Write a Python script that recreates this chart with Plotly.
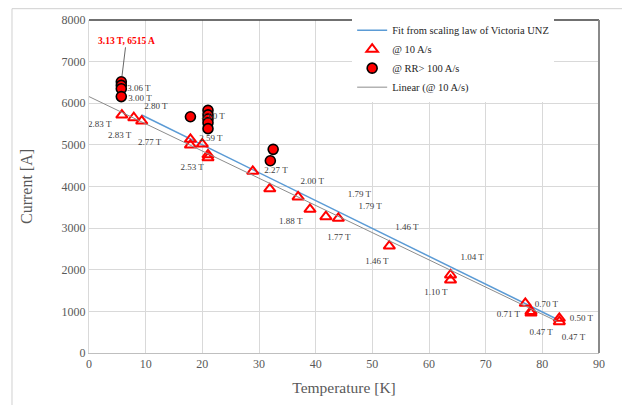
import plotly.graph_objects as go

# ---- data ----
fit_x = [9.3, 20, 30, 40, 50, 60, 70, 80, 82.6]
fit_y = [5717, 5002, 4334, 3665, 2996, 2322, 1653, 985, 810]

lin_x = [0, 82.6]
lin_y = [6160, 760]

tri_x = [5.8, 7.9, 9.3, 17.9, 17.9, 20.0, 21.0, 21.0, 28.9, 31.9, 36.9, 39.0,
         41.8, 44.0, 53.0, 63.8, 63.8, 77.0, 78.0, 78.0, 83.0, 83.0]
tri_y = [5717, 5652, 5573, 5133, 4996, 5020, 4760, 4690, 4365, 3945, 3750, 3452,
         3275, 3235, 2570, 1874, 1753, 1193, 1000, 960, 833, 752]

dot_x = [5.7, 5.7, 5.7, 5.7, 17.9, 21.0, 21.0, 21.0, 21.0, 21.0, 32.5, 32.0]
dot_y = [6515, 6430, 6350, 6160, 5676, 5830, 5720, 5620, 5530, 5390, 4893, 4619]

lbl_text = ["3.06 T", "3.00 T", "2.80 T", "2.83 T", "2.83 T", "2.77 T", "2.60 T",
            "2.59 T", "2.53 T", "2.27 T", "2.00 T", "1.79 T", "1.79 T", "1.88 T",
            "1.77 T", "1.46 T", "1.46 T", "1.04 T", "1.10 T", "0.70 T", "0.71 T",
            "0.50 T", "0.47 T", "0.47 T"]
lbl_x = [8.8, 9.0, 11.8, 1.9, 5.4, 10.7, 21.9, 21.5, 18.2, 33.0, 39.4, 47.7, 49.6,
         35.6, 44.1, 56.1, 50.8, 67.6, 61.2, 80.7, 74.0, 86.9, 79.8, 85.5]
lbl_y = [6345, 6100, 5910, 5480, 5210, 5040, 5670, 5140, 4440, 4370, 4110, 3800,
         3510, 3150, 2760, 3000, 2190, 2280, 1440, 1150, 910, 820, 480, 360]

peak_text = "3.13 T, 6515 A"
peak_x, peak_y = 5.7, 6515

xticks = [0, 10, 20, 30, 40, 50, 60, 70, 80, 90]
yticks = [0, 1000, 2000, 3000, 4000, 5000, 6000, 7000, 8000]

SERIF = "Liberation Serif, Times New Roman, serif"
GREY = "#595959"

fig = go.Figure()

fig.add_trace(go.Scatter(x=fit_x, y=fit_y, mode="lines", name="Fit from scaling law of Victoria UNZ",
                         line=dict(color="#5b9bd5", width=1.5)))
fig.add_trace(go.Scatter(x=tri_x, y=tri_y, mode="markers", name="@ 10 A/s",
                         marker=dict(symbol="triangle-up-open", size=10, color="#ff0000",
                                     line=dict(width=2, color="#ff0000"))))
fig.add_trace(go.Scatter(x=dot_x, y=dot_y, mode="markers", name="@ RR> 100 A/s",
                         marker=dict(symbol="circle", size=10, color="#ff0000",
                                     line=dict(width=1.6, color="#000000"))))
fig.add_trace(go.Scatter(x=lin_x, y=lin_y, mode="lines", name="Linear (@ 10 A/s)",
                         line=dict(color="#8c8c8c", width=1)))
fig.add_trace(go.Scatter(x=lbl_x, y=lbl_y, mode="text", text=lbl_text, showlegend=False,
                         textposition="middle center", hoverinfo="skip",
                         textfont=dict(family=SERIF, size=9, color="#404040")))

fig.add_annotation(x=peak_x, y=peak_y, xref="x", yref="y", text="<b>" + peak_text + "</b>",
                   showarrow=True, arrowhead=0, arrowwidth=0.8, arrowcolor="#404040",
                   ax=5, ay=-41, standoff=5,
                   font=dict(family=SERIF, size=9.5, color="#ff0000"))

# outer chart border
fig.add_shape(type="rect", xref="paper", yref="paper", x0=-0.151, x1=1.2, y0=-0.2, y1=1.034,
              line=dict(color="#d0d0d0", width=1), layer="below")
# dark top and right frame lines
fig.add_shape(type="line", xref="paper", yref="paper", x0=0, x1=1, y0=1, y1=1,
              line=dict(color="#404040", width=1.5))
fig.add_shape(type="line", xref="paper", yref="paper", x0=1, x1=1, y0=0, y1=1,
              line=dict(color="#8a8a8a", width=2))

fig.update_layout(
    width=622, height=405,
    margin=dict(l=89, r=23, t=20, b=52),
    paper_bgcolor="white", plot_bgcolor="white",
    font=dict(family=SERIF, color=GREY),
    legend=dict(x=0.516, y=1.013, xanchor="left", yanchor="top", bgcolor="white",
                font=dict(family=SERIF, size=10.5, color="#262626"), tracegroupgap=0),
    showlegend=True,
)
fig.update_xaxes(range=[0, 90], tickvals=xticks, showgrid=True, gridcolor="#d9d9d9", gridwidth=1,
                 showline=True, linecolor="#bfbfbf", zeroline=False,
                 tickfont=dict(family=SERIF, size=12, color=GREY),
                 title=dict(text="Temperature [K]", font=dict(family=SERIF, size=15.5, color=GREY), standoff=11))
fig.update_yaxes(range=[0, 8000], tickvals=yticks, showgrid=True, gridcolor="#d9d9d9", gridwidth=1,
                 showline=True, linecolor="#d9d9d9", zeroline=False,
                 tickfont=dict(family=SERIF, size=12, color=GREY), ticks="", ticklen=0,
                 title=dict(text="Current [A]", font=dict(family=SERIF, size=16, color=GREY), standoff=24))

fig.write_html("out.html")
